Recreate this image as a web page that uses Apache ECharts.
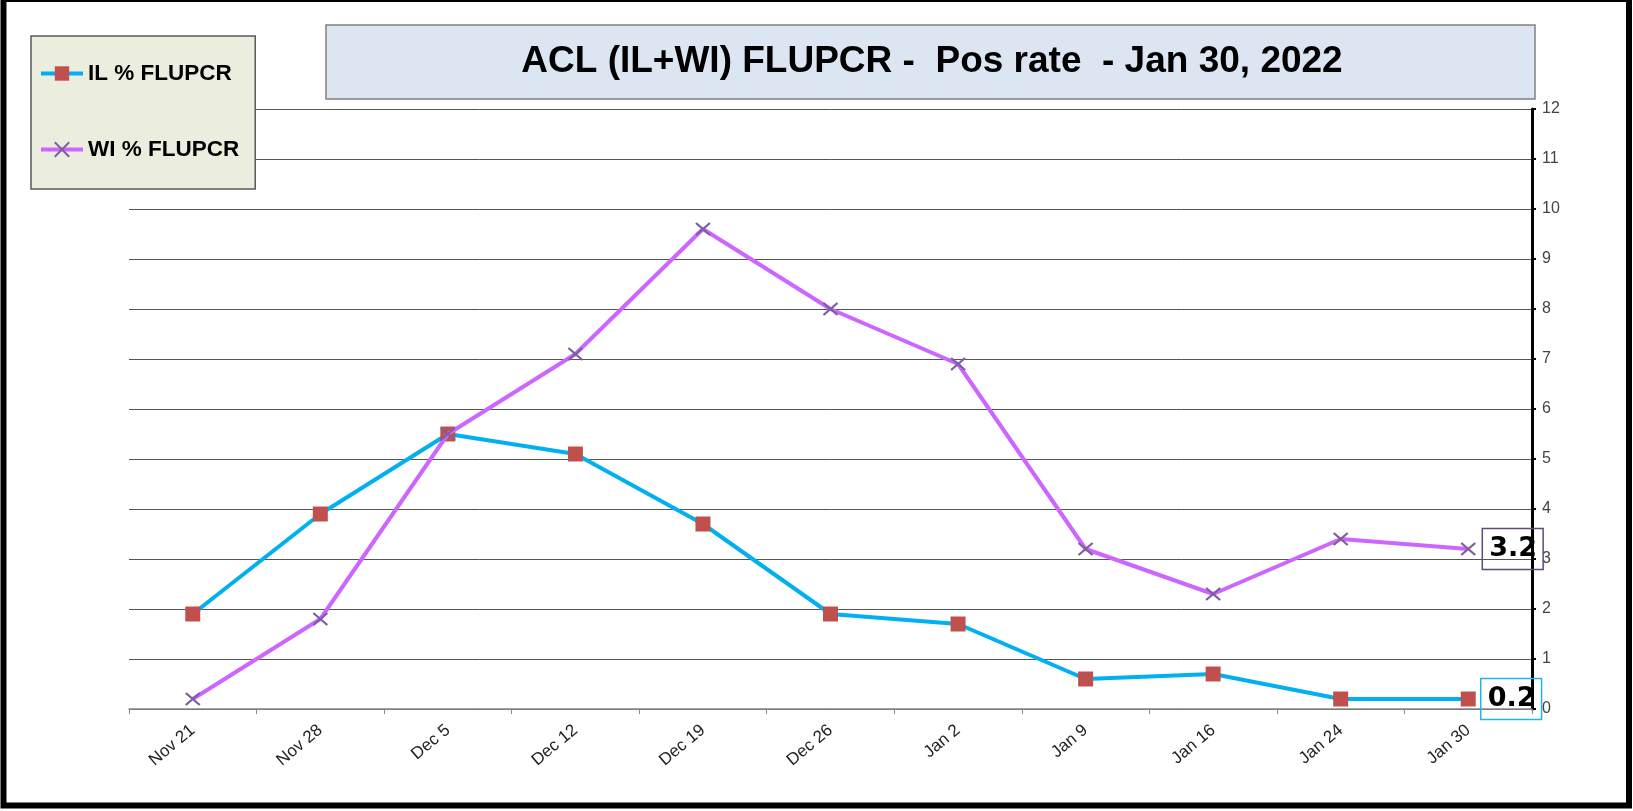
<!DOCTYPE html>
<html>
<head>
<meta charset="utf-8">
<script src="https://cdn.jsdelivr.net/npm/echarts@6/dist/echarts.min.js"></script>
<style>
  html, body { margin: 0; padding: 0; background: #fff; }
  #chart { width: 1633px; height: 811px; }
</style>
</head>
<body>
<div id="chart"></div>
<script>
var weeks = ["Nov 21", "Nov 28", "Dec 5", "Dec 12", "Dec 19", "Dec 26", "Jan 2", "Jan 9", "Jan 16", "Jan 24", "Jan 30"];
var ilRate = [1.9, 3.9, 5.5, 5.1, 3.7, 1.9, 1.7, 0.6, 0.7, 0.2, 0.2];
var wiRate = [0.2, 1.8, 5.5, 7.1, 9.6, 8.0, 6.9, 3.2, 2.3, 3.4, 3.2];

var titleText = "ACL (IL+WI) FLUPCR -  Pos rate  - Jan 30, 2022";
var xMark = "path://M0,0L10,10M10,0L0,10";

// last point of each series gets the boxed value label
function withEndLabel(values, boxColor, dist) {
  return values.map(function (v, i) {
    if (i !== values.length - 1) return v;
    return {
      value: v,
      label: {
        show: true,
        position: "right",
        distance: dist,
        formatter: "{c}",
        fontFamily: "DejaVu Sans",
        fontWeight: "bold",
        fontSize: 27,
        lineHeight: 27,
        color: "#000",
        borderColor: boxColor,
        borderWidth: 1.5,
        padding: [7, 6, 7, 7]
      }
    };
  });
}

var dom = document.getElementById("chart");
var myChart = echarts.init(dom);

var option = {
  animation: false,
  backgroundColor: "#fff",
  textStyle: { fontFamily: "Liberation Sans, Arial, sans-serif" },
  grid: { left: 129, right: 101, top: 109, bottom: 102 },
  legend: {
    orient: "vertical",
    left: 31,
    top: 36,
    padding: [26, 16, 28, 8],
    itemGap: 53,
    itemWidth: 42,
    itemHeight: 18,
    backgroundColor: "#EBEEDF",
    borderColor: "#5A5A5A",
    borderWidth: 1.5,
    borderRadius: 0,
    selectedMode: false,
    lineStyle: { width: 4 },
    textStyle: {
      fontSize: 22.5,
      lineHeight: 22,
      fontWeight: "bold",
      color: "#000"
    },
    data: ["IL % FLUPCR", "WI % FLUPCR"]
  },
  xAxis: {
    type: "category",
    data: weeks,
    boundaryGap: true,
    axisLine: { lineStyle: { color: "#888", width: 1.5 } },
    axisTick: { show: true, length: 5, lineStyle: { color: "#888" } },
    axisLabel: {
      interval: 0,
      rotate: 40,
      margin: 19,
      fontSize: 17,
      color: "#222"
    },
    splitLine: { show: false }
  },
  yAxis: {
    type: "value",
    position: "right",
    min: 0,
    max: 12,
    interval: 1,
    axisLine: { show: true, lineStyle: { color: "#000", width: 3 } },
    axisTick: { show: true, length: 4, lineStyle: { color: "#000", width: 2 } },
    axisLabel: { margin: 10, fontSize: 16, color: "#444" },
    splitLine: { show: true, lineStyle: { color: "#555", width: 1 } }
  },
  series: [
    {
      name: "IL % FLUPCR",
      type: "line",
      data: withEndLabel(ilRate, "#1FB5E8", 5),
      symbol: "rect",
      symbolSize: 15,
      showAllSymbol: true,
      lineStyle: { color: "#00B0F0", width: 4 },
      itemStyle: { color: "#C0504D" },
      z: 3
    },
    {
      name: "WI % FLUPCR",
      type: "line",
      data: withEndLabel(wiRate, "#604A7B", 6),
      symbol: xMark,
      symbolSize: [14, 12],
      showAllSymbol: true,
      lineStyle: { color: "#CC66FF", width: 4 },
      itemStyle: { color: "#7D5FA0", borderColor: "#7D5FA0", borderWidth: 2 },
      z: 4
    }
  ],
  graphic: [
    {
      type: "rect",
      silent: true,
      shape: { x: 326, y: 25, width: 1209, height: 74 },
      style: { fill: "#DCE6F2", stroke: "#808080", lineWidth: 1.5 },
      z: 10
    },
    {
      type: "text",
      silent: true,
      x: 932,
      y: 62,
      style: {
        text: titleText,
        font: "bold 37px 'Liberation Sans', Arial, sans-serif",
        fill: "#000",
        align: "center",
        verticalAlign: "middle"
      },
      z: 11
    },
    {
      type: "rect",
      silent: true,
      shape: { x: 3.5, y: -1, width: 1625.5, height: 806.5 },
      style: { fill: "none", stroke: "#000", lineWidth: 6 },
      z: 12
    }
  ]
};

myChart.setOption(option, true);
window.onresize = function () {
  myChart.resize();
};
</script>
</body>
</html>
